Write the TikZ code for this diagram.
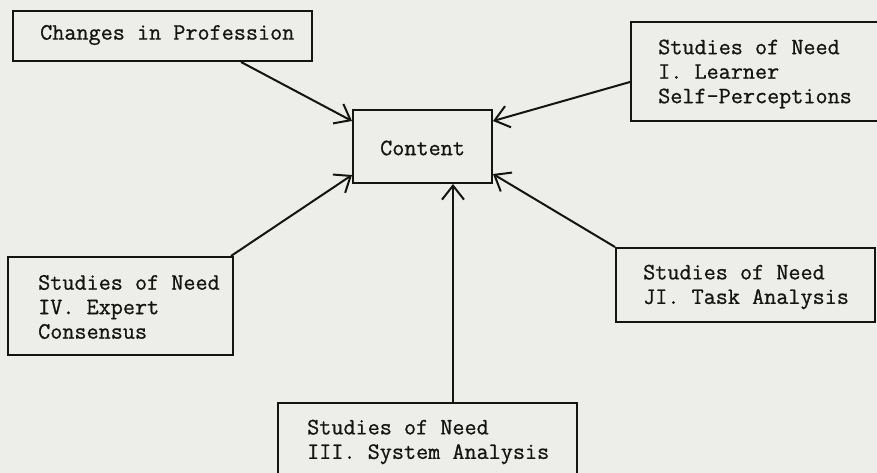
\documentclass[tikz,border=0pt]{standalone}
\usepackage{fontspec}
\setmonofont{Latin Modern Mono}[FakeBold=0.8]
\usetikzlibrary{arrows.meta,calc}
\definecolor{paper}{RGB}{237,238,233}
\definecolor{ink}{RGB}{20,20,20}
\tikzset{
  box/.style={draw=ink, line width=2pt, rectangle, inner sep=0pt},
  txt/.style={anchor=west, align=left, inner sep=0pt, text=ink,
    font=\ttfamily\fontsize{23.5}{24.5}\selectfont},
  arr/.style={draw=ink, line width=2pt,
    -{Straight Barb[length=14pt,width=22pt,line width=2pt]}}
}
\begin{document}
\begin{tikzpicture}[x=1pt,y=-1pt]
\fill[paper] (0,0) rectangle (877,473);
\useasboundingbox (0,0) rectangle (877,473);
% boxes
\node[box, minimum width=299pt, minimum height=50pt] (chg) at (162.5,36) {};
\node[box, minimum width=139pt, minimum height=73pt] (cont) at (422.5,146.5) {};
\node[box, minimum width=251pt, minimum height=99pt] (s1) at (756.5,71.5) {};
\node[box, minimum width=259pt, minimum height=74pt] (s2) at (745.5,285) {};
\node[box, minimum width=299pt, minimum height=87pt] (s3) at (427.5,446.5) {};
\node[box, minimum width=225pt, minimum height=98pt] (s4) at (120.5,306) {};
% texts
\node[txt] (tchg) at (40,35) {Changes in Profession};
\node[txt] (tcont) at (380,148) {Content};
\node[txt] (ts1) at (658,74) {Studies of Need\\I. Learner\\Self-Perceptions};
\node[txt] (ts2) at (643,287) {Studies of Need\\JI. Task Analysis};
\node[txt] (ts3) at (307,442) {Studies of Need\\III. System Analysis};
\node[txt] (ts4) at (38,307) {Studies of Need\\IV. Expert\\Consensus};
% connectors
\coordinate (tip3) at ([xshift=30.5pt]cont.south);
\draw[arr] ([xshift=-72pt]chg.south east) -- ([yshift=-12pt]cont.north west);
\draw[arr] ([yshift=-10.5pt]s1.west) -- ([yshift=-12pt]cont.north east);
\draw[arr] ([xshift=-3pt]s4.north east) -- ([yshift=9pt]cont.south west);
\draw[arr] (s2.north west) -- ([yshift=10pt]cont.south east);
\draw[arr] (s3.north -| tip3) -- (tip3);
\end{tikzpicture}
\end{document}
